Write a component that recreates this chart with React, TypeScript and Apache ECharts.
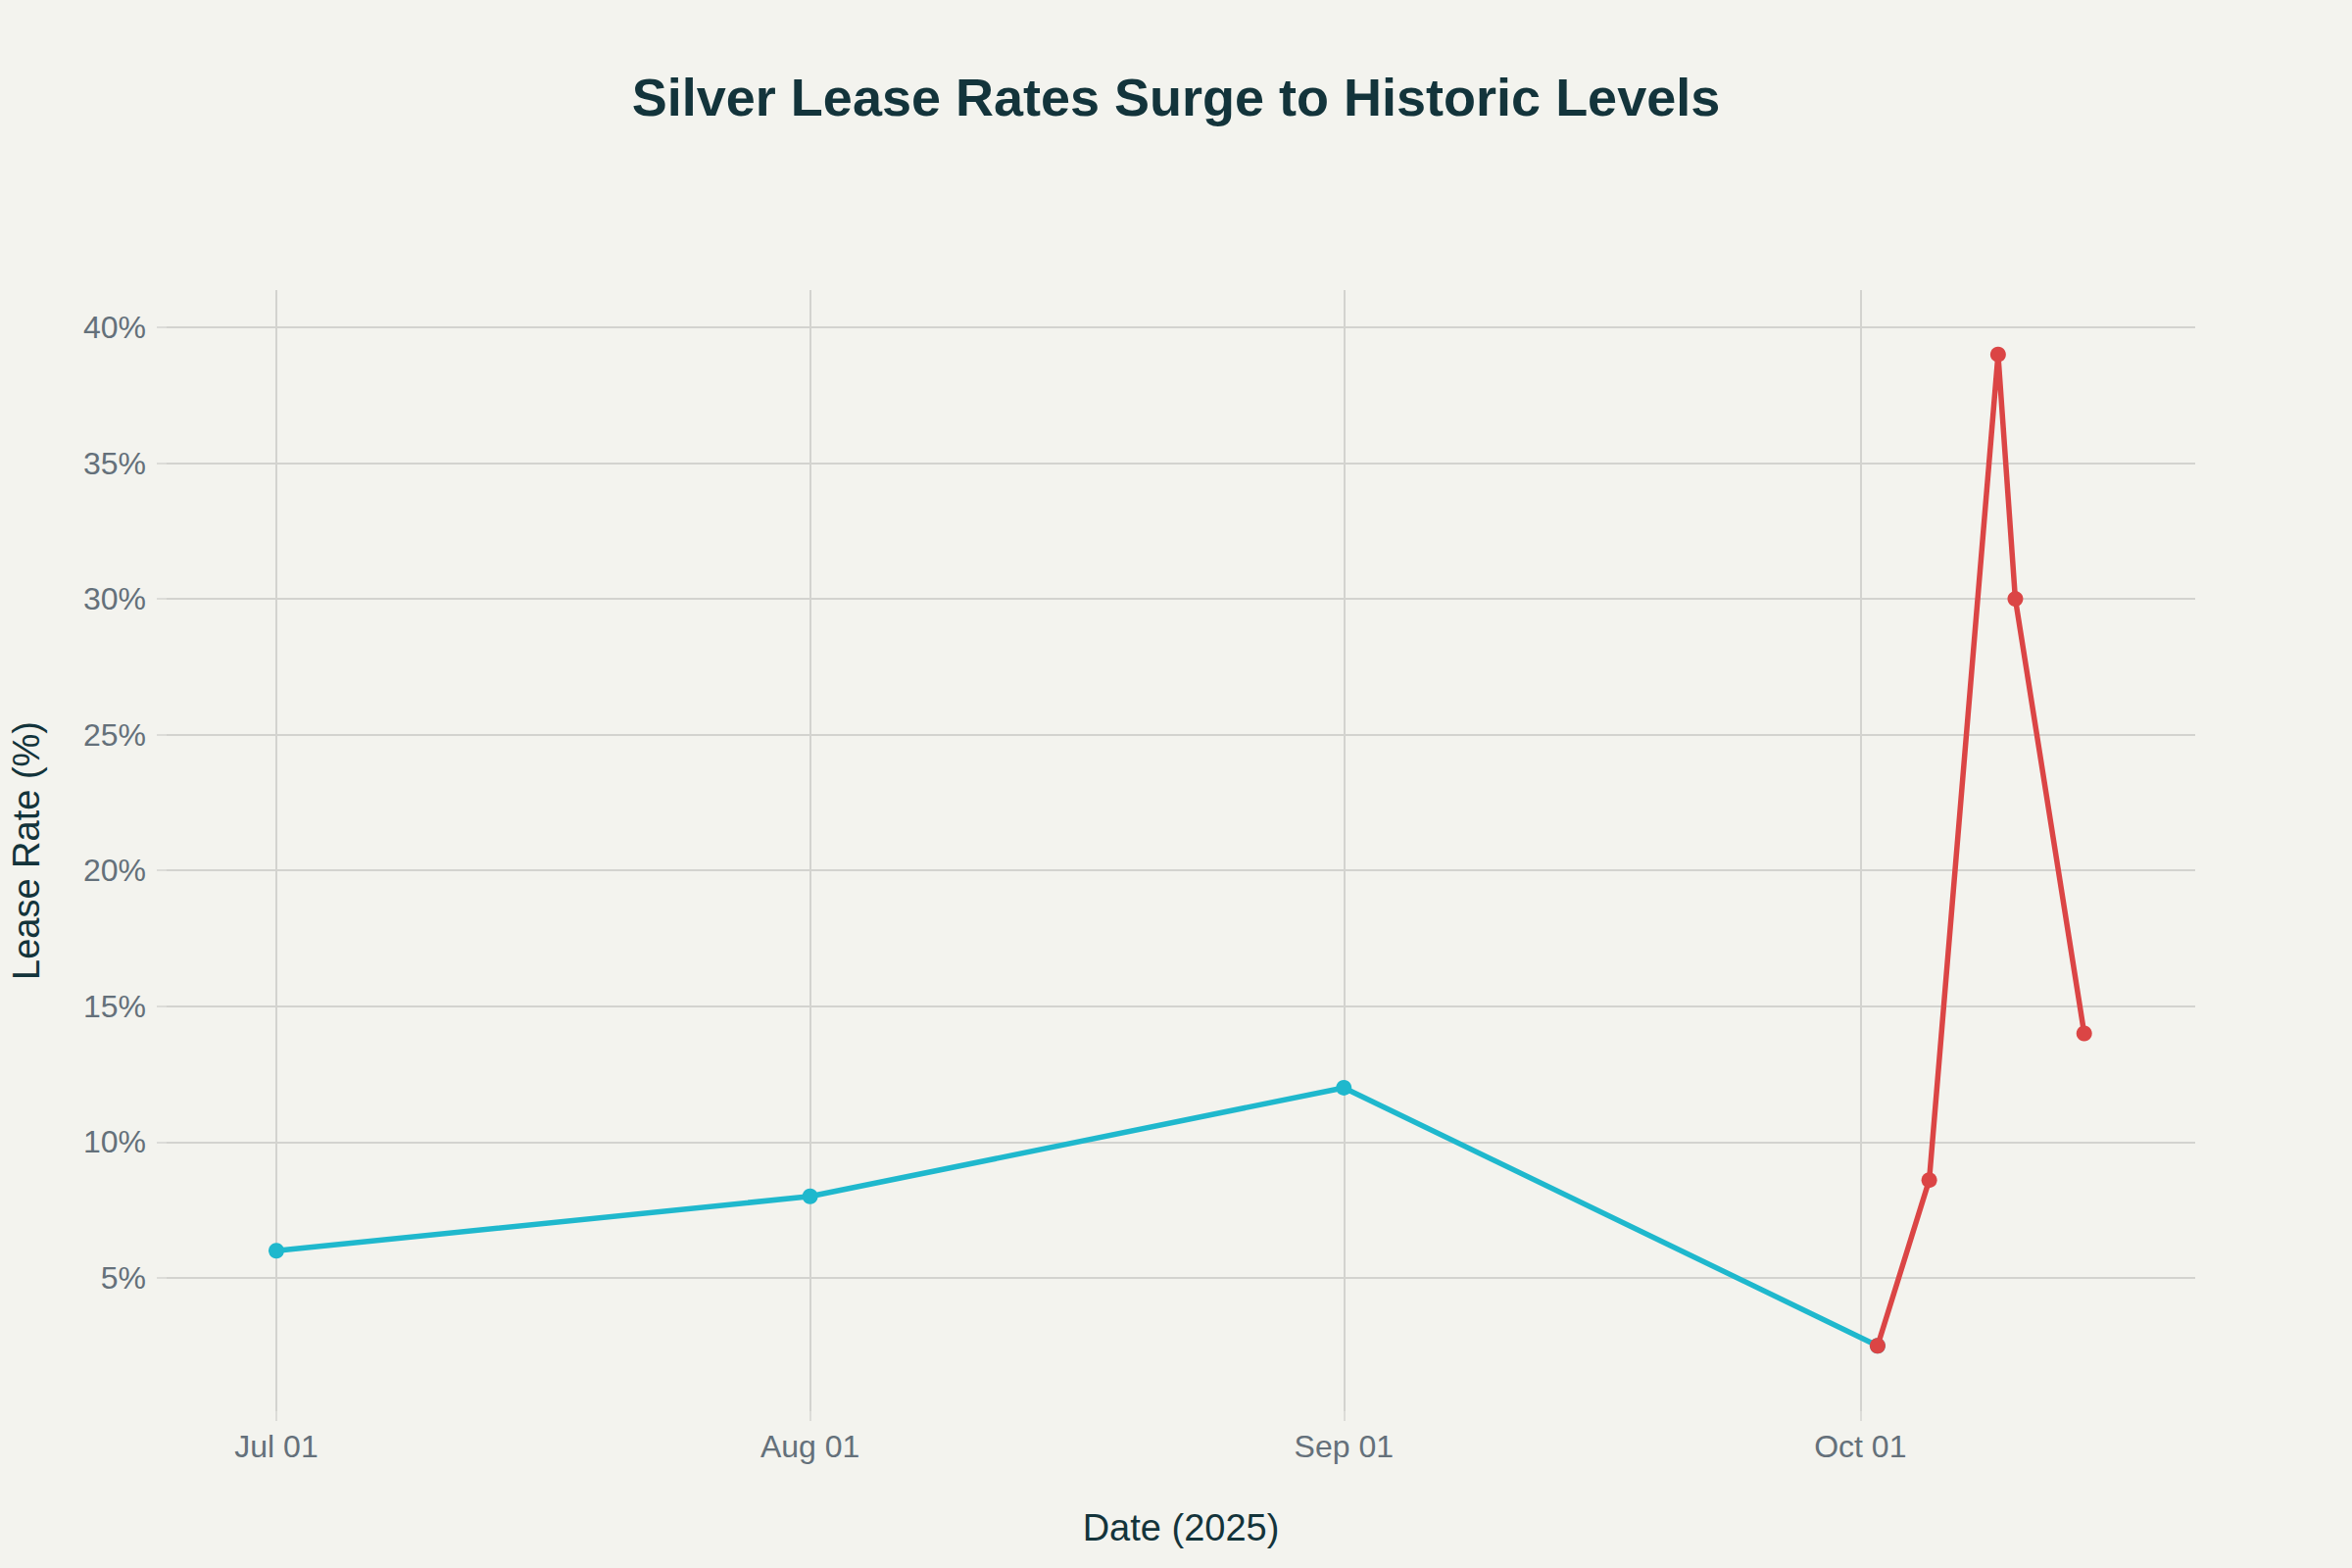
import React, { useEffect, useRef } from "react";
import * as echarts from "echarts";

const chartTitle = "Silver Lease Rates Surge to Historic Levels";
const xAxisTitle = "Date (2025)";
const yAxisTitle = "Lease Rate (%)";

const baselineDates = ["2025-07-01", "2025-08-01", "2025-09-01", "2025-10-02"];
const baselineValues = [6, 8, 12, 2.5];

const surgeDates = ["2025-10-02", "2025-10-05", "2025-10-09", "2025-10-10", "2025-10-14"];
const surgeValues = [2.5, 8.6, 39, 30, 14];

const xTickDates = ["2025-07-01", "2025-08-01", "2025-09-01", "2025-10-01"];
const xTickLabels = ["Jul 01", "Aug 01", "Sep 01", "Oct 01"];
const yTickValues = [5, 10, 15, 20, 25, 30, 35, 40];

const toTs = (s: string, h = 0, m = 0) => {
  const [y, mo, d] = s.split("-").map(Number);
  return Date.UTC(y, mo - 1, d, h, m);
};

const FONT = "'Liberation Sans', Arial, sans-serif";

export default function App() {
  const ref = useRef<HTMLDivElement>(null);

  useEffect(() => {
    document.body.style.margin = "0";
    if (!ref.current) return;
    const chart = echarts.init(ref.current, undefined, { renderer: "svg" });
    const xTickTs = xTickDates.map((d) => toTs(d));
    const gridColor = "#D3D3CF";

    chart.setOption({
      animation: false,
      backgroundColor: "#F3F3EE",
      textStyle: { fontFamily: FONT },
      title: {
        text: chartTitle,
        left: "center",
        top: 67,
        textStyle: {
          fontFamily: FONT,
          fontSize: 54,
          fontWeight: "bold",
          color: "#13343B",
        },
      },
      grid: { left: 168, right: 160, top: 296, bottom: 160, containLabel: false },
      xAxis: {
        type: "value",
        min: toTs("2025-06-24", 15, 0),
        max: toTs("2025-10-20", 10, 45),
        name: xAxisTitle,
        nameLocation: "middle",
        nameGap: 100,
        nameTextStyle: { fontFamily: FONT, fontSize: 38, color: "#13343B" },
        axisLine: { show: false },
        axisTick: {
          show: true,
          length: 10,
          customValues: xTickTs,
          lineStyle: { color: "#DCDCD8", width: 2 },
        },
        axisLabel: {
          customValues: xTickTs,
          margin: 20,
          fontSize: 32,
          fontFamily: FONT,
          color: "#64707A",
          formatter: (v: number) => {
            const i = xTickTs.indexOf(v);
            return i >= 0 ? xTickLabels[i] : "";
          },
        },
        splitLine: { show: true, lineStyle: { color: gridColor, width: 2 } },
      },
      yAxis: {
        type: "value",
        min: 0.09,
        max: 41.37,
        splitNumber: 8,
        name: yAxisTitle,
        nameLocation: "middle",
        nameGap: 124,
        nameRotate: 90,
        nameTextStyle: { fontFamily: FONT, fontSize: 38, color: "#13343B" },
        axisLine: { show: false },
        axisTick: {
          show: true,
          length: 10,
          customValues: yTickValues,
          lineStyle: { color: "#DCDCD8", width: 2 },
        },
        axisLabel: {
          customValues: yTickValues,
          margin: 21,
          fontSize: 32,
          fontFamily: FONT,
          color: "#64707A",
          formatter: (v: number) => `${v}%`,
        },
        splitLine: {
          show: true,
          lineStyle: { color: gridColor, width: 2 },
        },
      },
      series: [
        {
          type: "line",
          data: baselineDates.map((d, i) => [toTs(d), baselineValues[i]]),
          symbol: "circle",
          symbolSize: 16,
          lineStyle: { color: "#1FB8CD", width: 5.5 },
          itemStyle: { color: "#1FB8CD" },
          z: 2,
        },
        {
          type: "line",
          data: surgeDates.map((d, i) => [toTs(d), surgeValues[i]]),
          symbol: "circle",
          symbolSize: 16,
          lineStyle: { color: "#DB4545", width: 5.5 },
          itemStyle: { color: "#DB4545" },
          z: 3,
        },
      ],
    });

    return () => chart.dispose();
  }, []);

  return <div ref={ref} style={{ width: 2400, height: 1600 }} />;
}
